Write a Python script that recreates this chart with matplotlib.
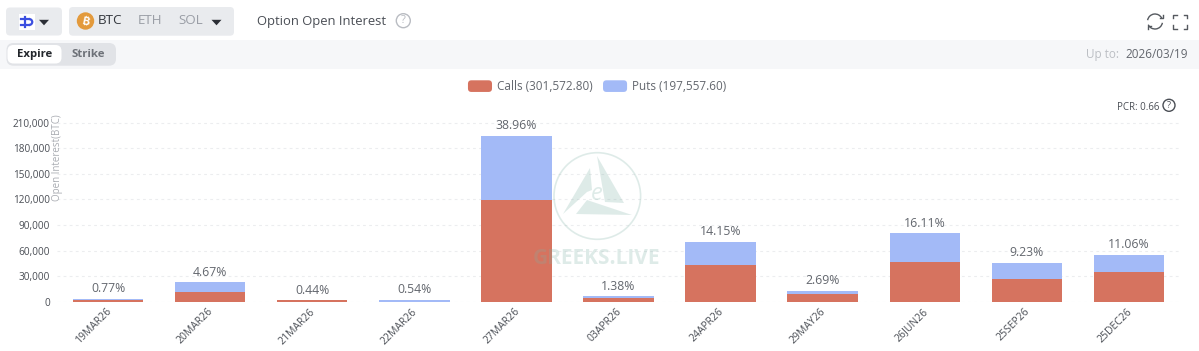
import matplotlib
matplotlib.use('Agg')
import matplotlib.pyplot as plt
from matplotlib.patches import FancyBboxPatch, Rectangle, Circle, Polygon, Arc, Patch
from matplotlib.legend_handler import HandlerPatch
from matplotlib.ticker import FuncFormatter
from matplotlib.transforms import ScaledTranslation

plt.rcParams['font.family'] = ['Open Sans', 'Noto Sans', 'DejaVu Sans']

expiries = ['19MAR26', '20MAR26', '21MAR26', '22MAR26', '27MAR26', '03APR26',
            '24APR26', '29MAY26', '26JUN26', '25SEP26', '25DEC26']
calls = [2000, 12000, 2000, 400, 119000, 4500, 43600, 9300, 46400, 26900, 34700]
puts = [1800, 11300, 200, 2300, 75400, 2400, 27000, 4100, 34000, 19200, 20500]
shares = ['0.77%', '4.67%', '0.44%', '0.54%', '38.96%', '1.38%',
          '14.15%', '2.69%', '16.11%', '9.23%', '11.06%']
y_ticks = [0, 30000, 60000, 90000, 120000, 150000, 180000, 210000]
legend_labels = ['Calls (301,572.80)', 'Puts (197,557.60)']

CALL_COL = '#D6735F'
PUT_COL = '#A3BAF7'
W, H = 1199, 351

fig = plt.figure(figsize=(W / 100, H / 100), dpi=100, facecolor='white')

# page furniture, in pixel coords. sits above the chart so the watermark tints the bars
ui = fig.add_axes([0, 0, 1, 1], zorder=5)
ui.set_xlim(0, W)
ui.set_ylim(H, 0)
ui.axis('off')


def box(x, y, w, h, col, r=3, z=2):
    ui.add_patch(FancyBboxPatch((x + r, y + r), w - 2 * r, h - 2 * r,
                                boxstyle='round,pad=%g,rounding_size=%g' % (r, r),
                                fc=col, ec='none', zorder=z))


def caret(x, y, col='#2b2f36'):
    ui.add_patch(Polygon([(x - 5, y - 2.7), (x + 5, y - 2.7), (x, y + 2.8)],
                         closed=True, fc=col, ec='none', zorder=4))


def help_icon(x, y, r, col, size):
    ui.add_patch(Circle((x, y), r, fc='none', ec=col, lw=1, zorder=4))
    ui.text(x, y, '?', color=col, fontsize=size, ha='center', va='center', zorder=4)


ui.add_patch(Rectangle((0, 40), W, 28.5, fc='#F6F7F9', ec='none', zorder=1))

# coin pickers
box(6, 7.5, 56, 28, '#E9EBEE', r=4)
box(69, 7, 165, 28.7, '#E9EBEE', r=4)
ui.add_patch(Rectangle((19, 14), 16, 16, fc='white', ec='none', zorder=3))
blue = '#3B4FE0'
ui.plot([21, 29], [19, 19], color=blue, lw=1.6, zorder=4)
ui.plot([21, 29], [25, 25], color=blue, lw=1.6, zorder=4)
ui.plot([24.5, 24.5], [17, 27], color=blue, lw=1.6, zorder=4)
ui.add_patch(Arc((29, 22), 6.5, 6, theta1=-90, theta2=90, color=blue, lw=1.6, zorder=4))
caret(44, 22.5)
ui.add_patch(Circle((85.5, 21), 8.7, fc='#E39A3C', ec='none', zorder=4))
ui.text(85.5, 21, '₿', color='white', fontsize=8, fontweight='bold', rotation=-12,
        family=['Inter', 'Noto Sans', 'Roboto', 'DejaVu Sans'],
        ha='center', va='center', zorder=5)
ui.text(98, 21, 'BTC', color='#33373d', fontsize=9.6, va='center', zorder=4)
ui.text(137.5, 21, 'ETH', color='#9a9ea6', fontsize=9.6, va='center', zorder=4)
ui.text(178, 21, 'SOL', color='#9a9ea6', fontsize=9.6, va='center', zorder=4)
caret(216.5, 22.5)
ui.text(257, 21, 'Option Open Interest', color='#4a4e55', fontsize=9.4, va='center', zorder=4)
help_icon(403.3, 20.7, 7, '#b9bcc2', 8)

# expire / strike switch
box(6.5, 43, 109.5, 22.7, '#E1E3E7', r=7)
box(7.5, 45, 54, 18.5, 'white', r=6, z=3)
ui.text(34.5, 54.3, 'Expire', color='#22262b', fontsize=8.2, fontweight='bold',
        ha='center', va='center', zorder=4)
ui.text(88, 54.3, 'Strike', color='#6d7178', fontsize=8.2, fontweight='bold',
        ha='center', va='center', zorder=4)
ui.text(1119, 54.3, 'Up to:', color='#bcbfc4', fontsize=8.5, ha='right', va='center', zorder=4)
ui.text(1188, 54.3, '2026/03/19', color='#63676e', fontsize=8.5, ha='right', va='center', zorder=4)

# refresh + fullscreen icons
icon = '#55595f'
ui.add_patch(Arc((1155, 21.5), 15, 15, theta1=190, theta2=335, color=icon, lw=1, zorder=4))
ui.add_patch(Arc((1155, 21.5), 15, 15, theta1=10, theta2=155, color=icon, lw=1, zorder=4))
ui.plot([1159.5, 1162.5, 1162.5], [17.5, 17.5, 14.5], color=icon, lw=1, zorder=4)
ui.plot([1147.5, 1147.5, 1150.5], [28.5, 25.5, 25.5], color=icon, lw=1, zorder=4)
for cx, cy in [(1173, 14.5), (1187, 14.5), (1173, 28.5), (1187, 28.5)]:
    dx = 3.5 if cx < 1180 else -3.5
    dy = 3.5 if cy < 20 else -3.5
    ui.plot([cx + dx, cx, cx], [cy, cy, cy + dy], color=icon, lw=1, zorder=4)

# PCR
ui.text(1159, 107, 'PCR: 0.66', color='#4a4e55', fontsize=7, ha='right', va='center', zorder=4)
help_icon(1169, 105.3, 6, '#4a4e55', 6.5)

# watermark
wm = '#7FB0A5'
wm_a = 0.25
ui.add_patch(Circle((597.3, 196), 43.3, fc='none', ec=wm, lw=1.2, alpha=wm_a, zorder=1))
ui.add_patch(Polygon([(590, 168), (563, 214), (587, 192), (592, 190)], closed=True, fc=wm, ec='none', alpha=wm_a, zorder=1))
ui.add_patch(Polygon([(597, 156), (605, 202), (624, 203)], closed=True, fc=wm, ec='none', alpha=wm_a, zorder=1))
ui.add_patch(Polygon([(576, 214), (632, 215), (587, 200)], closed=True, fc=wm, ec='none', alpha=wm_a, zorder=1))
ui.text(597, 194, 'e', color=wm, alpha=wm_a, fontsize=17, style='italic', ha='center', va='center', zorder=1)
ui.text(597, 258, 'GREEKS.LIVE', color=wm, alpha=wm_a, fontsize=15, fontweight='bold',
        ha='center', va='center', zorder=1)

# chart itself
ax = fig.add_axes([57 / W, 1 - 302 / H, 1123 / W, 179.5 / H], zorder=3)
ax.patch.set_alpha(0)
xs = list(range(len(expiries)))
bar_w = 70.3 / 101.9
b1 = ax.bar(xs, calls, width=bar_w, color=CALL_COL, zorder=3)
b2 = ax.bar(xs, puts, width=bar_w, bottom=calls, color=PUT_COL, zorder=3)
for x, c, p, s in zip(xs, calls, puts, shares):
    ax.annotate(s, (x, c + p), xytext=(0, 2.5), textcoords='offset points', ha='center',
                va='bottom', color='#63676e', fontsize=8.8, zorder=5)

ax.set_xlim(-0.5, len(expiries) - 0.5)
ax.set_ylim(0, 210000)
ax.set_yticks(y_ticks)
ax.yaxis.set_major_formatter(FuncFormatter(lambda v, _: format(int(v), ',')))
ax.set_xticks(xs)
ax.set_xticklabels(expiries, rotation=45, ha='right', rotation_mode='anchor')
ax.tick_params(axis='both', length=0, labelcolor='#4a4e55')
ax.tick_params(axis='y', labelsize=7.2, pad=5)
ax.tick_params(axis='x', labelsize=7.5, pad=3)
nudge = ScaledTranslation(-2.5 / 100, 0, fig.dpi_scale_trans)
for lab in ax.get_xticklabels():
    lab.set_transform(lab.get_transform() + nudge)
ax.grid(axis='y', color='#ECEDEF', lw=0.8, linestyle=(0, (2.5, 3)), zorder=0)
for s in ax.spines.values():
    s.set_visible(False)
ui.text(57.5, 158, 'Open Interest(BTC)', color='#A9ACB2', fontsize=7, rotation=90,
        ha='center', va='center', zorder=4)


def rounded_handle(legend, orig_handle, xdescent, ydescent, width, height, fontsize):
    return FancyBboxPatch((-xdescent + 2, -ydescent + 2), width - 4, height - 4,
                          boxstyle='round,pad=2,rounding_size=2.5')


ax.legend([Patch(fc=CALL_COL), Patch(fc=PUT_COL)], legend_labels, ncol=2, frameon=False,
          loc='center', bbox_to_anchor=(0.481, 1.2), fontsize=8.45, labelcolor='#63676e',
          handlelength=2.05, handleheight=1.15, handletextpad=0.43, columnspacing=0.87,
          handler_map={Patch: HandlerPatch(patch_func=rounded_handle)})

fig.savefig('out.png', dpi=100, facecolor='white')
